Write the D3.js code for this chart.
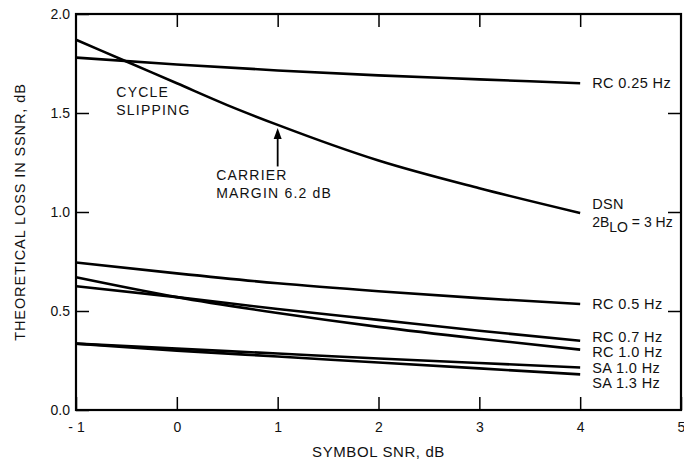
<!DOCTYPE html>
<html>
<head>
<meta charset="utf-8">
<script src="https://cdn.jsdelivr.net/npm/d3@7"></script>
<style>
  body { margin: 0; background: #fff; }
  svg { font-family: 'Liberation Sans', Arial, sans-serif; }
</style>
</head>
<body>
<div id="chart"></div>
<script>
// data
const snr = [-1, 0, 1, 2, 3, 4]
const dsnSnr = [-1, -0.5, 0, 0.5, 1, 2, 3, 4]
const dsn = [1.87, 1.76, 1.65, 1.54, 1.44, 1.26, 1.12, 0.995]
const rc025 = [1.78, 1.745, 1.715, 1.69, 1.67, 1.65]
const rc05 = [0.745, 0.69, 0.64, 0.6, 0.565, 0.535]
const rc07 = [0.625, 0.57, 0.51, 0.455, 0.4, 0.35]
const rc10 = [0.67, 0.57, 0.49, 0.42, 0.36, 0.305]
const sa10 = [0.335, 0.31, 0.285, 0.26, 0.237, 0.215]
const sa13 = [0.335, 0.3, 0.27, 0.24, 0.21, 0.18]
const xTicks = [-1, 0, 1, 2, 3, 4, 5]
const yTicks = [0, 0.5, 1, 1.5, 2]

const series = [
  { name: 'RC 0.25 Hz', xs: snr, ys: rc025 },
  { name: 'DSN', xs: dsnSnr, ys: dsn },
  { name: 'RC 0.5 Hz', xs: snr, ys: rc05 },
  { name: 'RC 0.7 Hz', xs: snr, ys: rc07 },
  { name: 'RC 1.0 Hz', xs: snr, ys: rc10 },
  { name: 'SA 1.0 Hz', xs: snr, ys: sa10 },
  { name: 'SA 1.3 Hz', xs: snr, ys: sa13 },
]

// size
const margin = { left: 76, right: 3, top: 14, bottom: 56 }
const width = 684 - margin.left - margin.right
const height = 466 - margin.top - margin.bottom

// scale
const x = d3.scaleLinear().domain([-1, 5]).range([0, width])
const y = d3.scaleLinear().domain([0, 2]).range([height, 0])

const svg = d3
  .select('#chart')
  .append('svg')
  .attr('width', 684)
  .attr('height', 466)

const plot = svg
  .append('g')
  .attr('transform', `translate(${margin.left}, ${margin.top})`)

const tickLen = 13
const fmtY = d3.format('.1f')
const ink = '#111'

// axes with inward ticks on all four sides
const styleAxis = g => {
  g.select('.domain').remove()
  g.selectAll('.tick line').attr('stroke', '#000').attr('stroke-width', 1.5)
  g.selectAll('.tick text')
    .attr('fill', ink)
    .style('font-size', '14px')
    .style('font-family', "'Liberation Sans', Arial, sans-serif")
}

plot
  .append('g')
  .attr('transform', `translate(0, ${height})`)
  .call(
    d3.axisBottom(x).tickValues(xTicks).tickSizeInner(-tickLen).tickSizeOuter(0).tickPadding(12)
      .tickFormat(d => (d < 0 ? '- ' + Math.abs(d) : d)),
  )
  .call(styleAxis)

plot
  .append('g')
  .call(d3.axisTop(x).tickValues(xTicks.slice(1, -1)).tickSizeInner(-tickLen).tickSizeOuter(0).tickFormat(''))
  .call(styleAxis)

plot
  .append('g')
  .call(d3.axisLeft(y).tickValues(yTicks).tickSizeInner(-tickLen).tickSizeOuter(0).tickFormat(fmtY))
  .call(styleAxis)
  .call(g => g.selectAll('.tick text').attr('x', -6))

plot
  .append('g')
  .attr('transform', `translate(${width}, 0)`)
  .call(d3.axisRight(y).tickValues(yTicks.slice(1, -1)).tickSizeInner(-tickLen).tickSizeOuter(0).tickFormat(''))
  .call(styleAxis)

// frame
plot
  .append('rect')
  .attr('width', width)
  .attr('height', height)
  .attr('fill', 'none')
  .attr('stroke', '#000')
  .attr('stroke-width', 2.2)

// curves
const line = d3
  .line()
  .x(d => x(d[0]))
  .y(d => y(d[1]))
  .curve(d3.curveMonotoneX)

plot
  .selectAll('path.curve')
  .data(series)
  .join('path')
  .attr('class', 'curve')
  .attr('d', d => line(d.xs.map((v, i) => [v, d.ys[i]])))
  .attr('fill', 'none')
  .attr('stroke', '#000')
  .attr('stroke-width', 2.6)

// right-hand labels
const labelX = x(4) + 12
const lastY = d => y(d.ys[d.ys.length - 1])
const labelOffsets = {
  'RC 0.25 Hz': 0,
  'RC 0.5 Hz': 0,
  'RC 0.7 Hz': -4,
  'RC 1.0 Hz': 2,
  'SA 1.0 Hz': 0,
  'SA 1.3 Hz': 9,
}

plot
  .selectAll('text.curve-label')
  .data(series.filter(d => d.name !== 'DSN'))
  .join('text')
  .attr('class', 'curve-label')
  .attr('x', labelX)
  .attr('y', d => lastY(d) + labelOffsets[d.name])
  .attr('dy', '0.35em')
  .style('font-size', '14.5px')
  .style('letter-spacing', '0.4px')
  .attr('fill', ink)
  .text(d => d.name)

const dsnY = y(dsn[dsn.length - 1])
plot
  .append('text')
  .attr('x', labelX)
  .attr('y', dsnY - 4)
  .style('font-size', '14.5px')
  .style('letter-spacing', '0.4px')
  .attr('fill', ink)
  .text('DSN')

const dsnSub = plot
  .append('text')
  .attr('x', labelX)
  .attr('y', dsnY + 14)
  .style('font-size', '14px')
  .attr('fill', ink)
dsnSub.append('tspan').text('2B')
dsnSub.append('tspan').attr('dy', 5).text('LO')
dsnSub.append('tspan').attr('dy', -5).text(' = 3 Hz')

// annotations
const note = (lines, x0, y0) => {
  plot
    .append('text')
    .attr('x', x0)
    .attr('y', y0)
    .style('font-size', '14px')
    .style('letter-spacing', '1.2px')
    .attr('fill', ink)
    .selectAll('tspan')
    .data(lines)
    .join('tspan')
    .attr('x', x0)
    .attr('dy', (d, i) => (i === 0 ? 0 : 18))
    .text(d => d)
}

note(['CYCLE', 'SLIPPING'], x(-0.6), y(1.58))
note(['CARRIER', 'MARGIN 6.2 dB'], x(0.39), y(1.16))

// arrow to DSN curve at SNR = 1
const tipY = y(dsn[dsnSnr.indexOf(1)]) + 3
const ax = x(1)
plot
  .append('line')
  .attr('x1', ax)
  .attr('x2', ax)
  .attr('y1', y(1.23))
  .attr('y2', tipY + 8)
  .attr('stroke', '#000')
  .attr('stroke-width', 1.8)
plot
  .append('path')
  .attr('d', `M${ax},${tipY} L${ax - 4},${tipY + 11} L${ax + 4},${tipY + 11} Z`)
  .attr('fill', '#000')

// axis titles
svg
  .append('text')
  .attr('text-anchor', 'middle')
  .attr('x', margin.left + x(2))
  .attr('y', 457)
  .style('font-size', '15px')
  .style('letter-spacing', '0.6px')
  .attr('fill', ink)
  .text('SYMBOL SNR, dB')

svg
  .append('text')
  .attr('text-anchor', 'middle')
  .attr('transform', `translate(25, ${margin.top + y(1)}) rotate(-90)`)
  .style('font-size', '14.5px')
  .style('letter-spacing', '0.9px')
  .attr('fill', ink)
  .text('THEORETICAL LOSS IN SSNR, dB')
</script>
</body>
</html>
